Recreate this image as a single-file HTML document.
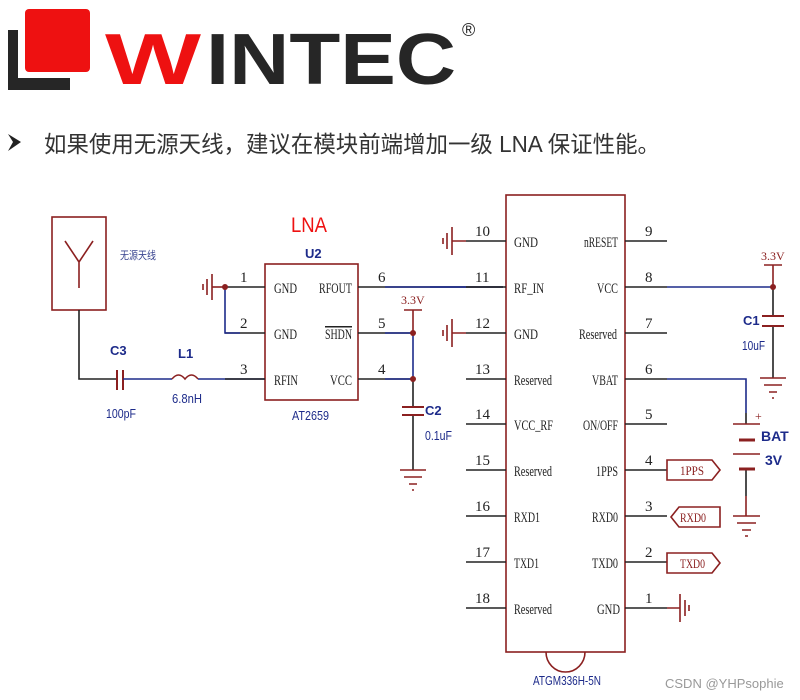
<!DOCTYPE html>
<html><head><meta charset="utf-8"><style>
html,body{margin:0;padding:0;background:#fff;width:800px;height:700px;overflow:hidden}
svg{display:block}
.s{font-family:"Liberation Serif",serif;font-size:15px;fill:#222}
.b{font-family:"Liberation Sans",sans-serif;fill:#1d2b8a}
</style></head><body>
<svg width="800" height="700" viewBox="0 0 800 700" xmlns="http://www.w3.org/2000/svg">
<!-- logo -->
<path d="M8,30 h10 v48 h52 v12 h-62 z" fill="#262626"/>
<rect x="25" y="9" width="65" height="63" rx="4" fill="#ee1111"/>
<text x="105" y="84" font-family="Liberation Sans,sans-serif" font-weight="bold" font-size="72" fill="#e11" textLength="96" lengthAdjust="spacingAndGlyphs">W</text>
<text x="206" y="84" font-family="Liberation Sans,sans-serif" font-weight="bold" font-size="72" fill="#262626" textLength="250" lengthAdjust="spacingAndGlyphs">INTEC</text>
<text x="462" y="36" font-family="Liberation Sans,sans-serif" font-size="18" fill="#262626">®</text>
<!-- bullet -->
<path d="M8,134 L21,142 L8,151 L13,142 Z" fill="#222"/>
<text x="44" y="152" font-family="Liberation Sans,'Noto Sans CJK SC',sans-serif" font-size="23" fill="#333" textLength="616" lengthAdjust="spacingAndGlyphs">如果使用无源天线，建议在模块前端增加一级 LNA 保证性能。</text>

<g fill="none" stroke-width="1.6">
<rect x="52" y="217" width="54" height="93" stroke="#8b2020"/>
<path d="M65,241 L79,262 L93,241 M79,262 V288" stroke="#8b2020"/>
<path d="M79,310 V379 H117" stroke="#222"/>
<path d="M117,370 V390 M123,370 V390" stroke="#8b2020" stroke-width="2"/>
<path d="M123,379 H172 M198,379 H265" stroke="#1d2b8a"/>
<path d="M172,379 q6.5,-8 13,0 q6.5,-8 13,0" stroke="#8b2020"/>
<rect x="265" y="264" width="93" height="136" stroke="#8b2020"/>
<path d="M225,287 H265 M225,333 H265 M225,379 H265" stroke="#222"/>
<path d="M225,287 V333 H240" stroke="#1d2b8a"/>
<path d="M212,287 H225" stroke="#8b2020"/>
<path d="M212,274 V300 M207,279 V295 M203,284 V290" stroke="#8b2020"/>
<path d="M358,287 H503 M358,333 H413 M358,379 H413" stroke="#222"/>
<path d="M385,287 H503 M385,333 H413 M385,379 H413" stroke="#1d2b8a"/>
<path d="M404,310 H422 M413,310 V333" stroke="#8b2020"/>
<path d="M413,333 V379" stroke="#1d2b8a"/>
<path d="M413,379 V407 M413,415 V470" stroke="#222"/>
<path d="M402,407 H424 M402,415 H424" stroke="#8b2020" stroke-width="2"/>
<path d="M400,470 H426 M404,477 H422 M409,484 H417 M412,490 H414" stroke="#8b2020"/>
<rect x="506" y="195" width="119" height="457" stroke="#8b2020"/>
<path d="M466,241 H506 M466,287 H506 M466,333 H506 M466,379 H506 M466,424 H506 M466,470 H506 M466,516 H506 M466,562 H506 M466,608 H506" stroke="#222"/>
<path d="M430,287 H466" stroke="#1d2b8a"/>
<path d="M625,241 H667 M625,287 H667 M625,333 H667 M625,379 H667 M625,424 H667 M625,470 H667 M625,516 H667 M625,562 H667 M625,608 H667" stroke="#222"/>
<path d="M452,241 H466 M452,333 H466" stroke="#8b2020"/>
<path d="M452,227 V255 M447,233 V249 M443,238 V244 M452,319 V347 M447,325 V341 M443,330 V336" stroke="#8b2020"/>
<path d="M667,608 H680 M680,594 V622 M685,600 V616 M689,605 V611" stroke="#8b2020"/>
<path d="M546,652 A19.5,20 0 0 0 585,652" stroke="#8b2020"/>
<path d="M667,287 H773" stroke="#1d2b8a"/>
<path d="M764,265 H782 M773,265 V287" stroke="#8b2020"/>
<path d="M773,287 V316 M773,326 V378" stroke="#222"/>
<path d="M762,316 H784 M762,326 H784" stroke="#8b2020" stroke-width="2"/>
<path d="M760,378 H786 M764,385 H782 M769,392 H777 M772,398 H774" stroke="#8b2020"/>
<path d="M667,379 H746 V413" stroke="#1d2b8a"/>
<path d="M746,413 V424 M746,470 V496" stroke="#222"/>
<path d="M746,496 V516" stroke="#8b2020"/>
<path d="M733,424 H760 M733,454 H760" stroke="#8b2020"/>
<path d="M739,440 H755 M739,469 H755" stroke="#8b2020" stroke-width="3"/>
<path d="M733,516 H760 M737,523 H756 M742,530 H751 M745,536 H748" stroke="#8b2020"/>
<path d="M667,460 H712 L720,470 L712,480 H667 Z" stroke="#8b2020"/>
<path d="M671,517 L679,507 H720 V527 H679 Z" stroke="#8b2020"/>
<path d="M667,553 H712 L720,563 L712,573 H667 Z" stroke="#8b2020"/>
</g>
<g fill="#8b2020">
<circle cx="225" cy="287" r="3"/><circle cx="413" cy="333" r="3"/><circle cx="413" cy="379" r="3"/><circle cx="773" cy="287" r="3"/>
</g>
<text x="120" y="259" font-family="Liberation Sans,'Noto Sans CJK SC',sans-serif" font-size="11" fill="#3a4590" textLength="36" lengthAdjust="spacingAndGlyphs">无源天线</text>
<text x="291" y="232" font-family="Liberation Sans,sans-serif" font-size="21" fill="#e11" textLength="36" lengthAdjust="spacingAndGlyphs">LNA</text>
<text class="b" x="305" y="258" font-size="13" font-weight="bold">U2</text>
<text class="b" x="292" y="420" font-size="13" textLength="37" lengthAdjust="spacingAndGlyphs">AT2659</text>
<text class="b" x="110" y="355" font-size="13" font-weight="bold">C3</text>
<text class="b" x="106" y="418" font-size="13" textLength="30" lengthAdjust="spacingAndGlyphs">100pF</text>
<text class="b" x="178" y="358" font-size="13" font-weight="bold">L1</text>
<text class="b" x="172" y="403" font-size="13" textLength="30" lengthAdjust="spacingAndGlyphs">6.8nH</text>
<text class="b" x="425" y="415" font-size="13" font-weight="bold">C2</text>
<text class="b" x="425" y="440" font-size="13" textLength="27" lengthAdjust="spacingAndGlyphs">0.1uF</text>
<text class="b" x="743" y="325" font-size="13" font-weight="bold">C1</text>
<text class="b" x="742" y="350" font-size="13" textLength="23" lengthAdjust="spacingAndGlyphs">10uF</text>
<text class="b" x="761" y="441" font-size="14" font-weight="bold">BAT</text>
<text class="b" x="765" y="465" font-size="14" font-weight="bold">3V</text>
<text x="755" y="420" font-family="Liberation Serif,serif" font-size="12" fill="#8b2020">+</text>
<text x="401" y="304" font-family="Liberation Serif,serif" font-size="12" fill="#8b2020">3.3V</text>
<text x="761" y="260" font-family="Liberation Serif,serif" font-size="12" fill="#8b2020">3.3V</text>
<g class="s" lengthAdjust="spacingAndGlyphs">
<text x="240" y="282">1</text><text x="240" y="328">2</text><text x="240" y="374">3</text>
<text x="378" y="282">6</text><text x="378" y="328">5</text><text x="378" y="374">4</text>
<text x="274" y="293" textLength="23" lengthAdjust="spacingAndGlyphs">GND</text><text x="274" y="339" textLength="23" lengthAdjust="spacingAndGlyphs">GND</text><text x="274" y="385" textLength="24" lengthAdjust="spacingAndGlyphs">RFIN</text>
<text x="319" y="293" textLength="33" lengthAdjust="spacingAndGlyphs">RFOUT</text><text x="325" y="339" textLength="27" lengthAdjust="spacingAndGlyphs" text-decoration="overline">SHDN</text><text x="330" y="385" textLength="22" lengthAdjust="spacingAndGlyphs">VCC</text>
<text x="475" y="236">10</text><text x="475" y="282">11</text><text x="475" y="328">12</text><text x="475" y="374">13</text><text x="475" y="419">14</text><text x="475" y="465">15</text><text x="475" y="511">16</text><text x="475" y="557">17</text><text x="475" y="603">18</text>
<text x="645" y="236">9</text><text x="645" y="282">8</text><text x="645" y="328">7</text><text x="645" y="374">6</text><text x="645" y="419">5</text><text x="645" y="465">4</text><text x="645" y="511">3</text><text x="645" y="557">2</text><text x="645" y="603">1</text>
<text x="514" y="247" textLength="24" lengthAdjust="spacingAndGlyphs">GND</text>
<text x="514" y="293" textLength="30" lengthAdjust="spacingAndGlyphs">RF_IN</text>
<text x="514" y="339" textLength="24" lengthAdjust="spacingAndGlyphs">GND</text>
<text x="514" y="385" textLength="38" lengthAdjust="spacingAndGlyphs">Reserved</text>
<text x="514" y="430" textLength="39" lengthAdjust="spacingAndGlyphs">VCC_RF</text>
<text x="514" y="476" textLength="38" lengthAdjust="spacingAndGlyphs">Reserved</text>
<text x="514" y="522" textLength="26" lengthAdjust="spacingAndGlyphs">RXD1</text>
<text x="514" y="568" textLength="25" lengthAdjust="spacingAndGlyphs">TXD1</text>
<text x="514" y="614" textLength="38" lengthAdjust="spacingAndGlyphs">Reserved</text>
<text x="584" y="247" textLength="34" lengthAdjust="spacingAndGlyphs">nRESET</text>
<text x="597" y="293" textLength="21" lengthAdjust="spacingAndGlyphs">VCC</text>
<text x="579" y="339" textLength="38" lengthAdjust="spacingAndGlyphs">Reserved</text>
<text x="592" y="385" textLength="26" lengthAdjust="spacingAndGlyphs">VBAT</text>
<text x="583" y="430" textLength="35" lengthAdjust="spacingAndGlyphs">ON/OFF</text>
<text x="596" y="476" textLength="22" lengthAdjust="spacingAndGlyphs">1PPS</text>
<text x="592" y="522" textLength="26" lengthAdjust="spacingAndGlyphs">RXD0</text>
<text x="592" y="568" textLength="26" lengthAdjust="spacingAndGlyphs">TXD0</text>
<text x="597" y="614" textLength="23" lengthAdjust="spacingAndGlyphs">GND</text>
<text x="680" y="475" font-size="13" fill="#8b2020" textLength="24" lengthAdjust="spacingAndGlyphs">1PPS</text><text x="680" y="522" font-size="13" fill="#8b2020" textLength="26" lengthAdjust="spacingAndGlyphs">RXD0</text><text x="680" y="568" font-size="13" fill="#8b2020" textLength="25" lengthAdjust="spacingAndGlyphs">TXD0</text>
</g>
<text class="b" x="533" y="685" font-size="13" textLength="68" lengthAdjust="spacingAndGlyphs">ATGM336H-5N</text>
<text x="665" y="688" font-family="Liberation Sans,sans-serif" font-size="13" fill="#999">CSDN @YHPsophie</text>
</svg>
</body></html>
